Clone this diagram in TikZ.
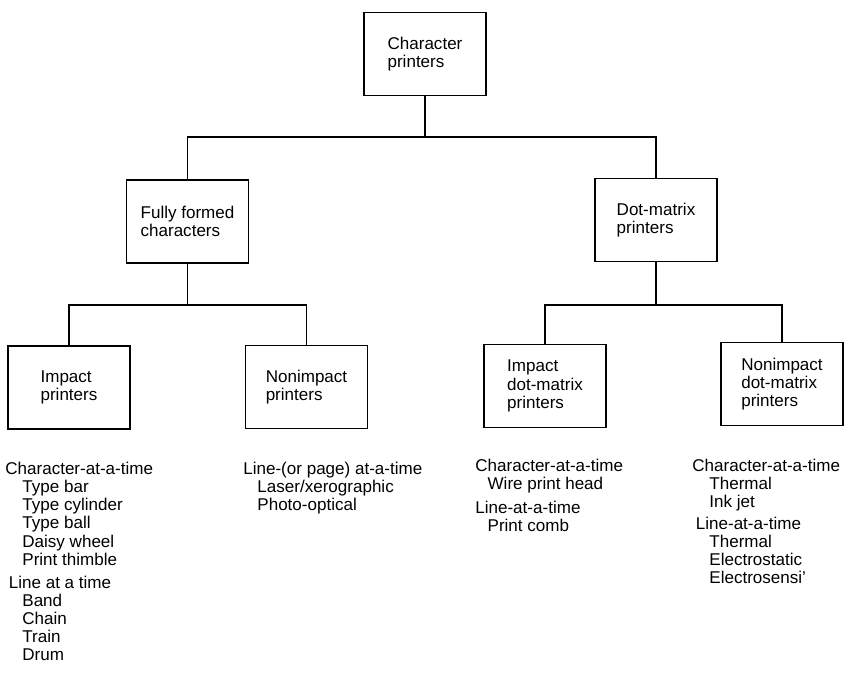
\documentclass[tikz,border=0pt]{standalone}
\usepackage{fontspec}
\setmainfont{Liberation Sans}
\usetikzlibrary{calc,positioning}

\begin{document}
\begin{tikzpicture}[x=0.02cm,y=-0.02cm,
box/.style={rectangle,draw,line width=0.9pt,
minimum width=2.44cm,
minimum height=1.66cm,align=left,
font=\fontsize{9.7}{10.4}\selectfont},
list/.style={anchor=north west,inner sep=0pt,align=left,
font=\fontsize{9.7}{10.3}\selectfont},
link/.style={line width=1pt}]
\useasboundingbox (0,0) rectangle (845,675);
\node[box](cp) at (425,54) {Character\\printers};
\node[box](ff) at (187.5,221.5) {Fully formed\\characters};
\node[box](dm) at (656,220) {Dot-matrix\\printers};
\node[box](ip) at (69,387.5) {Impact\\printers};
\node[box](np) at (306.5,387) {Nonimpact\\printers};
\node[box](idm) at (545,386) {Impact\\dot-matrix\\printers};
\node[box](ndm) at (782,384) {Nonimpact\\dot-matrix\\printers};
\coordinate (pt) at (425,137);
\coordinate (pt1) at (187.5,305);
\coordinate (pt2) at (656,305);
\node[list](lip) at (5,462) {Character-at-a-time\\
\quad Type bar\\
\quad Type cylinder\\
\quad Type ball\\
\quad Daisy wheel\\
\quad Print thimble\\[3pt]
\hspace{2pt}Line at a time\\
\quad Band\\
\quad Chain\\
\quad Train\\
\quad Drum};
\node[list](lnp) at (243,462) {Line-(or page) at-a-time\\
\hspace{8pt}Laser/xerographic\\
\hspace{8pt}Photo-optical};
\node[list](lidm) at (475,459) {Character-at-a-time\\
\hspace{7pt}Wire print head\\[3pt]
Line-at-a-time\\
\hspace{7pt}Print comb};
\node[list](lndm) at (692,459) {Character-at-a-time\\
\quad Thermal\\
\quad Ink jet\\[2pt]
\hspace{2pt}Line-at-a-time\\
\quad Thermal\\
\quad Electrostatic\\
\quad Electrosensi'};
\draw[link] (cp)--(pt);
\draw[link] (pt)-|(ff);
\draw[link] (pt)-|(dm);
\draw[link] (ff)--(pt1);
\draw[link] (pt1)-|(ip);
\draw[link] (pt1)-|(np);
\draw[link] (dm)--(pt2);
\draw[link] (pt2)-|(idm);
\draw[link] (pt2)-|(ndm);
\end{tikzpicture}
\end{document}
